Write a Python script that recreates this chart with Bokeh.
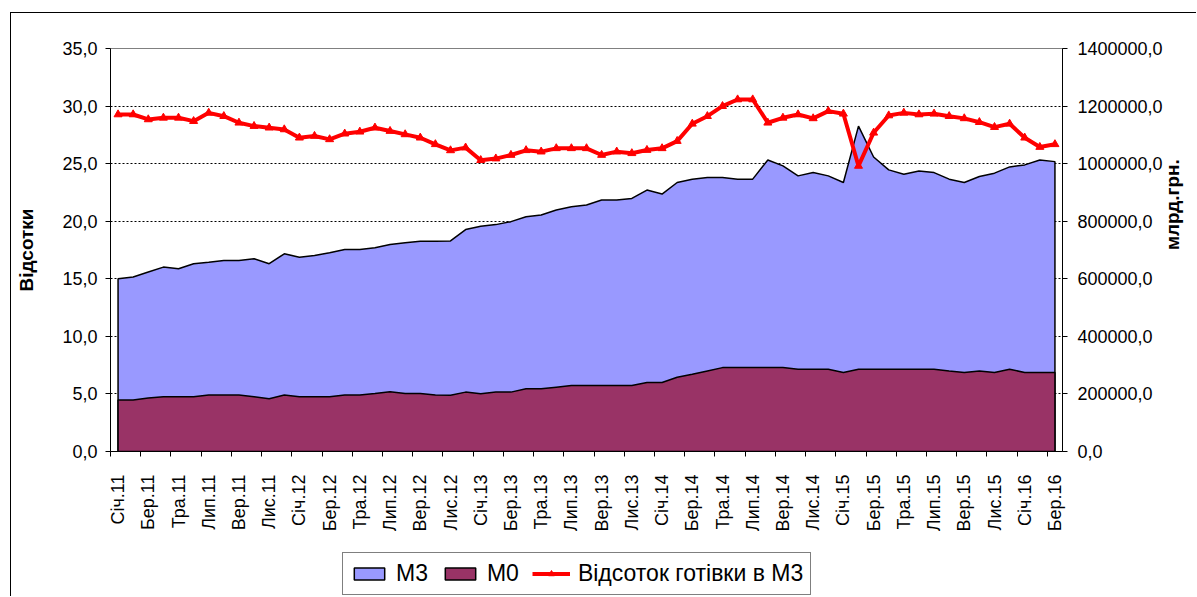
import math
from bokeh.plotting import figure
from bokeh.layouts import column
from bokeh.models import Range1d, LinearAxis, FixedTicker, Legend, LegendItem
from bokeh.embed import file_html
from bokeh.resources import INLINE

# ---- data ----
tick_labels = ["Січ.11", "Бер.11", "Тра.11", "Лип.11", "Вер.11", "Лис.11",
               "Січ.12", "Бер.12", "Тра.12", "Лип.12", "Вер.12", "Лис.12",
               "Січ.13", "Бер.13", "Тра.13", "Лип.13", "Вер.13", "Лис.13",
               "Січ.14", "Бер.14", "Тра.14", "Лип.14", "Вер.14", "Лис.14",
               "Січ.15", "Бер.15", "Тра.15", "Лип.15", "Вер.15", "Лис.15",
               "Січ.16", "Бер.16"]

m3 = [600400, 606000, 623300, 640600, 635000, 652300, 657800, 663700, 663700, 669600,
      652300, 686900, 675100, 681000, 690300, 701700, 701700, 707600, 719000, 724900,
      730400, 730400, 731500, 770900, 782300, 788200, 798500, 815800, 821700, 839000,
      850400, 856300, 873500, 873500, 879100, 908100, 894300, 934400, 946100, 951700,
      951700, 946100, 946100, 1012800, 992100, 957500, 969000, 957500, 934400, 1130400,
      1023200, 978300, 963400, 974800, 969000, 946100, 934400, 955100, 966900, 988600,
      995600, 1012800, 1007000]

m0 = [178700, 178700, 185600, 190100, 190100, 190100, 196000, 196000, 196000, 190100,
      183200, 196000, 190100, 190100, 190100, 196000, 196000, 201500, 207400, 201500,
      201500, 196000, 195500, 206300, 200500, 206300, 206300, 217800, 217800, 223600,
      229300, 229300, 229300, 229300, 229300, 239600, 239600, 258100, 268500, 280000,
      291400, 291400, 291400, 291400, 291400, 285900, 285900, 285900, 274200, 285900,
      285900, 285900, 285900, 285900, 285900, 280000, 274200, 280000, 274200, 285900,
      274200, 274200, 274200]

pct = [29.27, 29.27, 28.84, 28.98, 28.98, 28.69, 29.41, 29.12, 28.55, 28.26,
       28.12, 27.97, 27.25, 27.40, 27.11, 27.60, 27.77, 28.12, 27.83, 27.54,
       27.25, 26.68, 26.15, 26.39, 25.30, 25.44, 25.75, 26.16, 26.04, 26.33,
       26.33, 26.33, 25.75, 26.04, 25.90, 26.18, 26.33, 26.96, 28.46, 29.12,
       29.99, 30.57, 30.57, 28.55, 28.98, 29.27, 28.93, 29.56, 29.33, 24.80,
       27.68, 29.18, 29.41, 29.27, 29.33, 29.12, 28.93, 28.60, 28.17, 28.46,
       27.25, 26.44, 26.68]

left_ticks = [0, 5, 10, 15, 20, 25, 30, 35]
right_ticks = [0, 200000, 400000, 600000, 800000, 1000000, 1200000, 1400000]
series_names = ["M3", "M0", "Відсоток готівки в М3"]
left_title = "Відсотки"
right_title = "млрд.грн."

FONT = "Liberation Sans"
C_M3 = "#9999FF"
C_M0 = "#993366"
C_RED = "#FF0000"
n = len(m3)
xs = list(range(n))

W = 1185
H1 = 535
H2 = 48

p = figure(width=W, height=H1, output_backend="svg", toolbar_location=None,
           x_range=Range1d(-0.5, n - 0.5), y_range=Range1d(0, 35),
           min_border_left=99, min_border_right=W - 1053, min_border_top=35,
           min_border_bottom=H1 - 438)
p.background_fill_color = "white"
p.border_fill_color = "white"
p.outline_line_color = "#808080"
p.outline_line_width = 1

p.extra_y_ranges = {"m": Range1d(0, 1400000)}

# grid
p.xgrid.visible = False
p.ygrid.ticker = FixedTicker(ticks=[5, 10, 15, 20, 25, 30])
p.ygrid.grid_line_color = "black"
p.ygrid.grid_line_dash = "2 2"
p.ygrid.grid_line_width = 1


def draw(fig, visible=True):
    a = fig.patch(x=[xs[0]] + xs + [xs[-1]], y=[0] + m3 + [0], y_range_name="m",
                  fill_color=C_M3, line_color="black", line_width=1.5, visible=visible)
    b = fig.patch(x=[xs[0]] + xs + [xs[-1]], y=[0] + m0 + [0], y_range_name="m",
                  fill_color=C_M0, line_color="black", line_width=1.5, visible=visible)
    c = fig.line(xs, pct, line_color=C_RED, line_width=4, visible=visible)
    d = fig.scatter(xs, pct, marker="triangle", size=8, fill_color=C_RED,
                    line_color=C_RED, visible=visible)
    return a, b, c, d


draw(p)

# x axis
xa = p.xaxis[0]
xa.ticker = FixedTicker(ticks=list(range(0, n, 2)),
                        minor_ticks=[k - 0.5 for k in range(0, n + 1, 2)])
xa.major_label_overrides = {i * 2: lab for i, lab in enumerate(tick_labels)}
xa.major_label_orientation = math.pi / 2
xa.major_tick_line_color = None
xa.major_tick_out = 0
xa.major_tick_in = 0
xa.minor_tick_line_color = "black"
xa.minor_tick_out = 5
xa.minor_tick_in = 0
xa.major_label_standoff = 18
xa.axis_line_color = "black"
xa.major_label_text_font = FONT
xa.major_label_text_font_size = "18px"
xa.major_label_text_color = "black"

# left axis
ya = p.yaxis[0]
ya.ticker = FixedTicker(ticks=left_ticks)
ya.major_label_overrides = {v: f"{v},0" for v in left_ticks}
ya.major_tick_out = 5
ya.major_tick_in = 0
ya.minor_tick_line_color = None
ya.major_label_standoff = 8
ya.axis_line_color = "black"
ya.major_label_text_font = FONT
ya.major_label_text_font_size = "18px"
ya.major_label_text_color = "black"
ya.axis_label = left_title
ya.axis_label_text_font = FONT
ya.axis_label_text_font_size = "19px"
ya.axis_label_text_font_style = "bold"
ya.axis_label_text_color = "black"
ya.axis_label_standoff = 22

# right axis
ra = LinearAxis(y_range_name="m", ticker=FixedTicker(ticks=right_ticks))
ra.major_label_overrides = {v: f"{v},0" for v in right_ticks}
ra.major_tick_out = 5
ra.major_tick_in = 0
ra.minor_tick_line_color = None
ra.major_label_standoff = 10
ra.axis_line_color = "black"
ra.major_label_text_font = FONT
ra.major_label_text_font_size = "18px"
ra.major_label_text_color = "black"
p.add_layout(ra, "right")

# right-hand title, written bottom-to-top like the left one
mid = 700000
ta = LinearAxis(y_range_name="m", ticker=FixedTicker(ticks=[mid]))
ta.major_label_overrides = {mid: right_title}
ta.major_label_orientation = math.pi / 2
ta.axis_line_color = None
ta.major_tick_line_color = None
ta.minor_tick_line_color = None
ta.major_tick_out = 0
ta.major_tick_in = 0
ta.major_label_standoff = 7
ta.major_label_text_font = FONT
ta.major_label_text_font_size = "19px"
ta.major_label_text_font_style = "bold"
ta.major_label_text_color = "black"
p.add_layout(ta, "right")

# legend strip (separate small figure below the chart)
p2 = figure(width=W, height=H2, output_backend="svg", toolbar_location=None,
            x_range=Range1d(-0.5, n - 0.5), y_range=Range1d(0, 35),
            x_axis_type=None, y_axis_type=None,
            min_border_left=0, min_border_right=0, min_border_top=0,
            min_border_bottom=0)
p2.extra_y_ranges = {"m": Range1d(0, 1400000)}
p2.grid.visible = False
p2.outline_line_color = None
p2.background_fill_color = "white"
p2.border_fill_color = "white"
g1, g2, g3, g4 = draw(p2, visible=False)

legend = Legend(items=[LegendItem(label=series_names[0], renderers=[g1]),
                       LegendItem(label=series_names[1], renderers=[g2]),
                       LegendItem(label=series_names[2], renderers=[g3, g4])],
                orientation="horizontal", location=(232, 1))
legend.label_text_font = FONT
legend.label_text_font_size = "23px"
legend.label_text_color = "black"
legend.glyph_width = 38
legend.glyph_height = 15
legend.label_standoff = 8
legend.spacing = 13
legend.padding = 7
legend.margin = 0
legend.border_line_color = "black"
legend.border_line_width = 1
legend.background_fill_color = "white"
legend.background_fill_alpha = 1
legend.inactive_fill_alpha = 0
p2.add_layout(legend, "center")

layout = column(p, p2, spacing=0)
layout.margin = (12, 0, 0, 10)
layout.styles = {"border-left": "1px solid black", "border-top": "1px solid black"}

open("out.html", "w").write(file_html(layout, INLINE))
